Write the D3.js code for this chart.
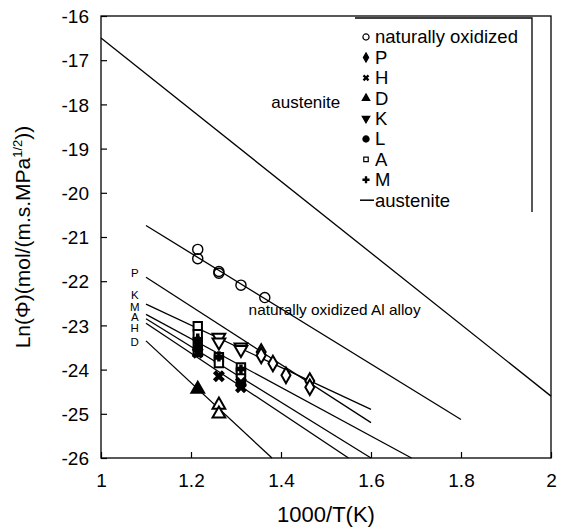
<!DOCTYPE html>
<html><head><meta charset="utf-8">
<script src="https://cdn.jsdelivr.net/npm/d3@7"></script>
<style>body{margin:0;background:#fff}svg{display:block}text{font-family:"Liberation Sans",Arial,sans-serif;fill:#000}</style>
</head><body><svg id="c" width="563" height="532"></svg>
<script>
// ---- data ----
const xTicks = [1, 1.2, 1.4, 1.6, 1.8, 2];
const yTicks = [-16, -17, -18, -19, -20, -21, -22, -23, -24, -25, -26];
const legendNames = ["naturally oxidized", "P", "H", "D", "K", "L", "A", "M", "austenite"];
// fitted lines: [x0, y0, x1, y1]
const lineAustenite = [1.0, -16.5, 2.0, -24.6];
const lineNatOx = [1.1, -20.74, 1.8, -25.13];
const lineP = [1.1, -21.91, 1.6, -25.2];
const lineK = [1.1, -22.52, 1.6, -24.9];
const lineM = [1.1, -22.75, 1.69, -26.0];
const lineA = [1.1, -22.85, 1.6, -26.0];
const lineH = [1.1, -22.95, 1.55, -26.0];
const lineD = [1.1, -23.35, 1.38, -26.0];
const lineLabels = ["P", "K", "M", "A", "H", "D"];
const lineLabelY = [-21.81, -22.31, -22.58, -22.81, -23.06, -23.37];
// measured points
const natX = [1.215, 1.215, 1.262, 1.262, 1.311, 1.364];
const natY = [-21.28, -21.49, -21.78, -21.82, -22.09, -22.37];
const pX = [1.356, 1.356, 1.382, 1.411, 1.464, 1.464];
const pY = [-23.6, -23.68, -23.86, -24.13, -24.26, -24.4];
const hX = [1.215, 1.262, 1.311, 1.311];
const hY = [-23.62, -24.15, -24.3, -24.4];
const dX = [1.215, 1.262, 1.262];
const dY = [-24.44, -24.8, -25.0];
const kX = [1.262, 1.262, 1.311, 1.311];
const kY = [-23.27, -23.38, -23.49, -23.55];
const lX = [1.215, 1.215];
const lY = [-23.35, -23.5];
const aX = [1.215, 1.215, 1.215, 1.215, 1.262, 1.262, 1.311, 1.311, 1.311];
const aY = [-23.02, -23.2, -23.45, -23.6, -23.72, -23.85, -23.95, -24.05, -24.2];
const mX = [1.215, 1.262, 1.311];
const mY = [-23.3, -23.7, -24.0];

// ---- layout ----
const svg = d3.select("#c");
const L = 101, R = 551, T = 16, B = 458;
const x = d3.scaleLinear().domain([1, 2]).range([L, R]);
const y = d3.scaleLinear().domain([-26, -16]).range([B, T]);

// frame
svg.append("rect").attr("x", L).attr("y", T).attr("width", R - L).attr("height", B - T)
  .attr("fill", "none").attr("stroke", "#000").attr("stroke-width", 1.3);

// axes with inward ticks
const fmt = d => String(d);
const gx = svg.append("g").attr("transform", `translate(0,${B})`)
  .call(d3.axisBottom(x).tickValues(xTicks).tickSize(-6).tickPadding(16).tickFormat(fmt));
const gy = svg.append("g").attr("transform", `translate(${L},0)`)
  .call(d3.axisLeft(y).tickValues(yTicks).tickSize(-6).tickPadding(12).tickFormat(fmt));
[gx, gy].forEach(g => {
  g.select(".domain").remove();
  g.selectAll(".tick line").attr("stroke", "#000").attr("stroke-width", 1.2);
  g.selectAll(".tick text").attr("font-size", 19).attr("font-family", "Liberation Sans, Arial, sans-serif");
});
gy.selectAll(".tick text").attr("dy", "0.35em");

// axis titles
svg.append("text").attr("x", 326).attr("y", 522).attr("text-anchor", "middle")
  .attr("font-size", 22).text("1000/T(K)");
const yt = svg.append("text").attr("transform", `translate(30,${(T + B) / 2}) rotate(-90)`)
  .attr("text-anchor", "middle").attr("font-size", 21);
yt.append("tspan").text("Ln(Φ)(mol/(m.s.MPa");
yt.append("tspan").attr("dy", -8).attr("font-size", 13).text("1/2");
yt.append("tspan").attr("dy", 8).text("))");

// lines
const allLines = [lineAustenite, lineNatOx, lineP, lineK, lineM, lineA, lineH, lineD];
svg.append("g").selectAll("line").data(allLines).join("line")
  .attr("x1", d => x(d[0])).attr("y1", d => y(d[1]))
  .attr("x2", d => x(d[2])).attr("y2", d => y(d[3]))
  .attr("stroke", "#000").attr("stroke-width", 1.3);

// line labels
svg.append("g").selectAll("text").data(lineLabels).join("text")
  .attr("x", x(1.075))
  .attr("y", (d, i) => y(lineLabelY[i])).attr("dy", "0.35em")
  .attr("text-anchor", "middle").attr("font-size", 11.5).text(d => d);

// annotations
svg.append("text").attr("x", x(1.455)).attr("y", y(-17.95)).attr("dy", "0.35em")
  .attr("text-anchor", "middle").attr("font-size", 17).text("austenite");
svg.append("text").attr("x", x(1.328)).attr("y", y(-22.65)).attr("dy", "0.35em")
  .attr("font-size", 15).attr("textLength", 172).attr("lengthAdjust", "spacingAndGlyphs")
  .text("naturally oxidized Al alloy");

// markers
const sym = (type, size) => d3.symbol().type(type).size(size);
const pts = (xs, ys) => xs.map((v, i) => [v, ys[i], i]);
const g = svg.append("g");
function draw(xs, ys, type, size, fill, sw, rot) {
  g.append("g").selectAll("path").data(pts(xs, ys)).join("path")
    .attr("d", sym(type, size))
    .attr("transform", d => `translate(${x(d[0])},${y(d[1])})${rot ? " rotate(" + rot + ")" : ""}`)
    .attr("fill", typeof fill === "function" ? fill : () => fill)
    .attr("stroke", "#000").attr("stroke-width", sw);
}
draw(natX, natY, d3.symbolCircle, 80, "none", 1.4);
draw(aX, aY, d3.symbolSquare, 70, "#fff", 2);
draw(lX, lY, d3.symbolCircle, 60, "#000", 1);
draw(mX, mY, d3.symbolCross, 60, "#000", 0);
draw(pX, pY, d3.symbolDiamond, 70, "#fff", 2);
draw(kX, kY, d3.symbolTriangle, 70, "#fff", 2, 180);
draw(hX, hY, d3.symbolCross, 90, "#000", 0, 45);
draw(dX, dY, d3.symbolTriangle, 70, d => d[2] === 0 ? "#000" : "#fff", 2);

// legend
const lg = svg.append("g");
const lgTop = 37, lgStep = 20.4, lgMx = 366, lgTx = 375;
lg.append("path").attr("d", `M355,18H532V212`).attr("fill", "none").attr("stroke", "#000").attr("stroke-width", 1.3);
const legSym = [
  [d3.symbolCircle, "none", 30, 0], [d3.symbolDiamond, "#000", 24, 0], [d3.symbolCross, "#000", 28, 45],
  [d3.symbolTriangle, "#000", 24, 0], [d3.symbolTriangle, "#000", 24, 180], [d3.symbolCircle, "#000", 30, 0],
  [d3.symbolSquare, "#fff", 20, 0], [d3.symbolCross, "#000", 28, 0]
];
legendNames.forEach((name, i) => {
  const cy = lgTop + i * lgStep;
  if (i < legSym.length) {
    const s = legSym[i];
    lg.append("path").attr("d", d3.symbol().type(s[0]).size(s[2]))
      .attr("transform", `translate(${lgMx},${cy}) rotate(${s[3]})`)
      .attr("fill", s[1]).attr("stroke", "#000").attr("stroke-width", (s[0] === d3.symbolCross) ? 0 : 1.2);
  } else {
    lg.append("line").attr("x1", lgMx - 6).attr("x2", lgTx - 1).attr("y1", cy).attr("y2", cy)
      .attr("stroke", "#000").attr("stroke-width", 1.5);
  }
  lg.append("text").attr("x", lgTx).attr("y", cy).attr("dy", "0.35em").attr("font-size", 18.5).text(name);
});
</script></body></html>
